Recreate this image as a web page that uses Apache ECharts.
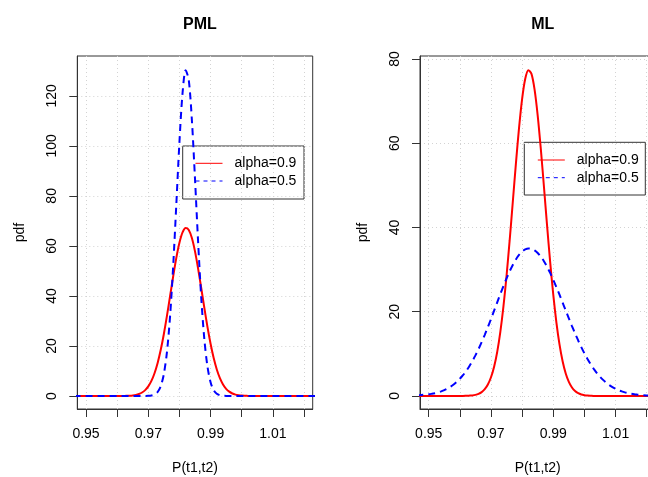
<!DOCTYPE html>
<html><head><meta charset="utf-8">
<script src="https://cdn.jsdelivr.net/npm/echarts@6/dist/echarts.min.js"></script>
<style>html,body{margin:0;padding:0;background:#fff}#c{width:648px;height:477px}</style>
</head><body><div id="c"></div><script>
// x grid of the density curves (P(t1,t2))
const xs = [0.946,
 0.950,0.951,0.952,0.953,0.954,0.955,0.956,0.957,0.958,0.959,
 0.960,0.961,0.962,0.963,0.964,0.965,0.966,0.967,0.968,0.969,
 0.970,0.971,0.972,0.973,0.974,0.975,0.976,0.977,0.978,0.979,
 0.980,0.981,0.982,0.983,0.984,0.985,0.986,0.987,0.988,0.989,
 0.990,0.991,0.992,0.993,0.994,0.995,0.996,0.997,0.998,0.999,
 1.000,1.001,1.002,1.003,1.004,1.005,1.006,1.007,1.008,1.009,
 1.010,1.011,1.012,1.013,1.014,1.015,1.016,1.017,1.018,1.019,
 1.020,1.024];

// PML panel
const pmlAlpha09 = [0,
 0,0,0,0,0,0,0,0,0,0,
 0,0,0.03,0.06,0.12,0.23,0.43,0.79,1.39,2.36,
 3.85,6.03,9.09,13.20,18.45,24.80,32.10,39.96,47.87,55.19,
 61.23,65.36,67.15,66.38,63.14,57.80,50.91,43.16,35.20,27.63,
 20.87,15.17,10.61,7.14,4.62,2.88,1.73,1.00,0.55,0.30,
 0.15,0.08,0.04,0,0,0,0,0,0,0,
 0,0,0,0,0,0,0,0,0,0,
 0,0];
const pmlAlpha05 = [0,
 0,0,0,0,0,0,0,0,0,0,
 0,0,0,0,0,0,0,0,0,0.02,
 0.06,0.19,0.58,1.60,3.95,8.79,17.66,31.96,52.12,76.60,
 101.45,121.08,130.23,126.22,110.26,86.80,61.57,39.36,22.67,11.77,
 5.51,2.32,0.88,0.30,0.09,0.03,0,0,0,0,
 0,0,0,0,0,0,0,0,0,0,
 0,0,0,0,0,0,0,0,0,0,
 0,0];

// ML panel
const mlAlpha09 = [0,
 0,0,0,0,0,0,0,0,0,0,
 0,0,0.03,0.07,0.13,0.26,0.50,0.91,1.61,2.72,
 4.43,6.95,10.47,15.21,21.25,28.57,36.97,46.03,55.14,63.57,
 70.53,75.29,77.34,76.46,72.73,66.57,58.64,49.71,40.54,31.82,
 24.03,17.47,12.22,8.22,5.32,3.32,1.99,1.15,0.64,0.34,
 0.18,0.09,0.04,0,0,0,0,0,0,0,
 0,0,0,0,0,0,0,0,0,0,
 0,0];
const mlAlpha05 = [0.11,
 0.38,0.50,0.65,0.84,1.09,1.38,1.75,2.19,2.71,3.34,
 4.07,4.92,5.89,7.00,8.24,9.62,11.13,12.76,14.51,16.35,
 18.27,20.24,22.22,24.19,26.09,27.91,29.59,31.10,32.41,33.47,
 34.27,34.78,35.00,34.91,34.56,33.94,33.08,31.98,30.68,29.20,
 27.58,25.84,24.03,22.17,20.29,18.43,16.60,14.84,13.17,11.59,
 10.12,8.77,7.54,6.43,5.44,4.57,3.81,3.15,2.58,2.10,
 1.70,1.36,1.08,0.85,0.67,0.52,0.40,0.31,0.23,0.17,
 0.13,0.04];

// ticks and labels
const xTicks = [0.95,0.96,0.97,0.98,0.99,1.00,1.01,1.02];
const xLabels = [0.95,0.97,0.99,1.01];
const pmlYTicks = [0,20,40,60,80,100,120];
const mlYTicks = [0,20,40,60,80];
const titles = ['PML','ML'];
const seriesNames = ['alpha=0.9','alpha=0.5'];

const font = '"Liberation Sans", Arial, Helvetica, sans-serif';
const gridDefs = [
  {left:77.3, top:56, width:235.4, height:353},
  {left:420, top:56, width:235.4, height:353}
];
const yRanges = [[-5.2,135.9],[-3.1,80.7]];
const yTickSets = [pmlYTicks, mlYTicks];

function pairs(a){ return xs.map((x,i)=>[x,a[i]]); }

const chart = echarts.init(document.getElementById('c'), null, {renderer:'canvas'});
const splitStyle = {show:true, lineStyle:{color:'#d3d3d3', type:[1,3], width:1}};
const option = {
  animation:false,
  backgroundColor:'#fff',
  title: titles.map((t,i)=>({
    text:t, left:gridDefs[i].left+gridDefs[i].width/2, top:12, textAlign:'center',
    textStyle:{fontSize:16, fontWeight:'bold', color:'#000', fontFamily:font}
  })),
  grid: gridDefs.map(g=>Object.assign({show:true, borderColor:'#333', borderWidth:1, containLabel:false, outerBoundsMode:'none'}, g)),
  xAxis: [0,1].map(i=>({
    type:'value', gridIndex:i, min:0.9472, max:1.0228,
    name:'P(t1,t2)', nameLocation:'middle', nameGap:52,
    nameTextStyle:{fontSize:14, color:'#000', fontFamily:font},
    axisLine:{show:true, onZero:false, lineStyle:{color:'#333', width:1}},
    axisTick:{show:true, length:8, lineStyle:{color:'#333', width:1}, customValues:xTicks},
    axisLabel:{show:true, customValues:xLabels, margin:18, fontSize:14, color:'#000', fontFamily:font,
      formatter:v=>Number(v).toFixed(2)},
    splitLine:splitStyle
  })),
  yAxis: [0,1].map(i=>({
    type:'value', gridIndex:i, min:yRanges[i][0], max:yRanges[i][1],
    name:'pdf', nameLocation:'middle', nameGap:50, nameRotate:90,
    nameTextStyle:{fontSize:14, color:'#000', fontFamily:font},
    axisLine:{show:true, onZero:false, lineStyle:{color:'#333', width:1}},
    axisTick:{show:true, length:8, lineStyle:{color:'#333', width:1}, customValues:yTickSets[i]},
    axisLabel:{show:true, customValues:yTickSets[i], rotate:90, margin:18, fontSize:14, color:'#000', fontFamily:font},
    splitLine:splitStyle
  })),
  legend: [
    {left:195, top:156.3},
    {left:537.3, top:153}
  ].map(p=>({
    orient:'vertical', left:p.left, top:p.top, padding:0,
    itemWidth:27, itemHeight:14, itemGap:3.7, selectedMode:false,
    data:[{name:seriesNames[0]},{name:seriesNames[1], lineStyle:{type:[4,4]}}],
    lineStyle:{width:1},
    itemStyle:{opacity:0},
    textStyle:{fontSize:14, color:'#000', fontFamily:font, padding:[0,0,0,7]}
  })),
  graphic: [
    {type:'rect', shape:{x:182.7, y:146, width:121.3, height:53}, style:{fill:'none', stroke:'#333', lineWidth:1}, silent:true},
    {type:'rect', shape:{x:524.3, y:142.3, width:121, height:52.7}, style:{fill:'none', stroke:'#333', lineWidth:1}, silent:true}
  ],
  series: [
    {name:seriesNames[0], type:'line', xAxisIndex:0, yAxisIndex:0, data:pairs(pmlAlpha09), showSymbol:false, symbol:'none', smooth:0.3, clip:true,
      lineStyle:{color:'#ff0000', width:2}, itemStyle:{color:'#ff0000'}},
    {name:seriesNames[1], type:'line', xAxisIndex:0, yAxisIndex:0, data:pairs(pmlAlpha05), showSymbol:false, symbol:'none', smooth:0.3, clip:true,
      lineStyle:{color:'#0000ff', width:2, type:[7,5]}, itemStyle:{color:'#0000ff'}},
    {name:seriesNames[0], type:'line', xAxisIndex:1, yAxisIndex:1, data:pairs(mlAlpha09), showSymbol:false, symbol:'none', smooth:0.3, clip:true,
      lineStyle:{color:'#ff0000', width:2}, itemStyle:{color:'#ff0000'}},
    {name:seriesNames[1], type:'line', xAxisIndex:1, yAxisIndex:1, data:pairs(mlAlpha05), showSymbol:false, symbol:'none', smooth:0.3, clip:true,
      lineStyle:{color:'#0000ff', width:2, type:[7,5]}, itemStyle:{color:'#0000ff'}}
  ]
};
chart.setOption(option);
</script></body></html>
